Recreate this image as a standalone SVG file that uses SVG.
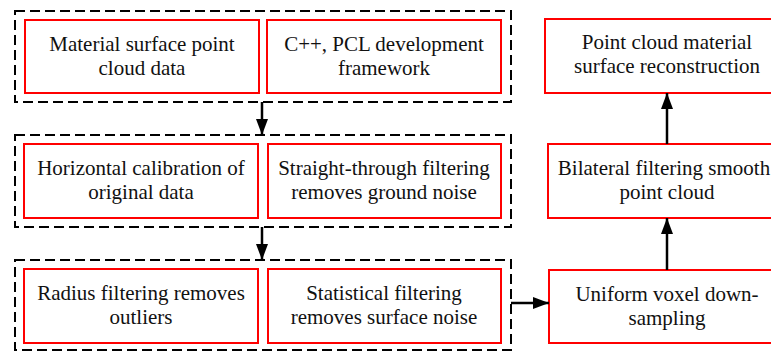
<svg xmlns="http://www.w3.org/2000/svg" width="771" height="352" viewBox="0 0 771 352">
<style>
.grp{fill:none;stroke:#000;stroke-width:2;stroke-dasharray:10,5}
.box{fill:#fff;stroke:#f00;stroke-width:2}
text{font-family:"Liberation Serif","Times New Roman",serif;font-size:21px;fill:#111;text-anchor:middle}
.ln{stroke:#000;stroke-width:2.5;fill:none}
</style>
<defs>
<marker id="ah" markerWidth="16" markerHeight="12" refX="16" refY="6" orient="auto" markerUnits="userSpaceOnUse">
<path d="M0,0 L16,6 L0,12 Z" fill="#000"/>
</marker>
</defs>
<rect width="771" height="352" fill="#fff"/>
<g id="group1"><rect class="grp" x="15" y="11" width="496" height="91"/></g>
<g id="group2"><rect class="grp" x="15" y="135" width="496" height="92"/></g>
<g id="group3"><rect class="grp" x="15" y="260" width="496" height="90"/></g>
<g id="n1"><rect class="box" x="25" y="20" width="234" height="73"/><text x="142" y="51">Material surface point</text><text x="142" y="75">cloud data</text></g>
<g id="n2"><rect class="box" x="267" y="20" width="234" height="73"/><text x="384" y="51">C++, PCL development</text><text x="384" y="75">framework</text></g>
<g id="n3"><rect class="box" x="24" y="144" width="234" height="74"/><text x="141" y="175">Horizontal calibration of</text><text x="141" y="199">original data</text></g>
<g id="n4"><rect class="box" x="268" y="144" width="233" height="74"/><text x="384" y="175">Straight-through filtering</text><text x="384" y="199">removes ground noise</text></g>
<g id="n5"><rect class="box" x="24" y="269" width="234" height="74"/><text x="141" y="300">Radius filtering removes</text><text x="141" y="324">outliers</text></g>
<g id="n6"><rect class="box" x="268" y="269" width="233" height="74"/><text x="384" y="300">Statistical filtering</text><text x="384" y="324">removes surface noise</text></g>
<g id="n7"><rect class="box" x="549" y="270" width="240" height="73"/><text x="667" y="301">Uniform voxel down-</text><text x="667" y="325">sampling</text></g>
<g id="n8"><rect class="box" x="548" y="144" width="241" height="74"/><text x="664" y="175">Bilateral filtering smooth</text><text x="667" y="199">point cloud</text></g>
<g id="n9"><rect class="box" x="545" y="19" width="244" height="74"/><text x="667" y="49">Point cloud material</text><text x="667" y="73">surface reconstruction</text></g>
<g id="connectors">
<line class="ln" x1="262" y1="102" x2="262" y2="135" marker-end="url(#ah)"/>
<line class="ln" x1="262" y1="227" x2="262" y2="260" marker-end="url(#ah)"/>
<line class="ln" x1="511" y1="303" x2="549" y2="303" marker-end="url(#ah)"/>
<line class="ln" x1="667" y1="270" x2="667" y2="218" marker-end="url(#ah)"/>
<line class="ln" x1="667" y1="144" x2="667" y2="93" marker-end="url(#ah)"/>
</g>
</svg>
